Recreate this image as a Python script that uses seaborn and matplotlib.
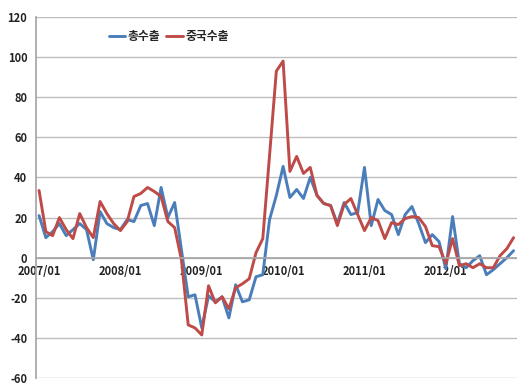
import numpy as np
import pandas as pd
import matplotlib
matplotlib.use("Agg")
import matplotlib.pyplot as plt
import seaborn as sns

# 월별 증가율(%) 2007/01 ~ 2012/11
months = pd.period_range("2007-01", periods=71, freq="M").strftime("%Y/%m").tolist()
total_export = [21, 10, 13, 17, 11, 14, 17, 14, -1, 23, 17, 15,
                14, 19, 18, 26, 27, 16, 35, 20, 27.5, 4, -19.5, -18.5,
                -35, -19, -22, -19.5, -30, -13.5, -22, -21, -9.5, -8.5, 19, 31,
                45.5, 30, 34, 29.5, 40, 31, 27, 26, 17, 27.5, 21.5, 22.5,
                45, 16, 29, 23.5, 21.5, 11.5, 21.5, 25.5, 17, 7.5, 11.5, 8,
                -5.5, 20.5, -3, -5, -1.5, 1, -8.5, -6, -3, 0, 3.5]
china_export = [33.5, 13, 11, 20, 14, 9.5, 22, 15, 10, 28, 22, 17,
                13.5, 18, 30.5, 32, 35, 33, 30.5, 18, 15, -1, -33.5, -35,
                -38.5, -14, -22.5, -19.5, -25.5, -15, -13, -10.5, 2.5, 9.5, 51, 93,
                98, 43, 50.5, 42, 45, 31, 27, 26, 16, 26.5, 29.5, 21.5,
                13.5, 20, 18.5, 9.5, 17.5, 16.5, 19.5, 20.5, 20, 15.5, 6, 5.5,
                -3, 9.5, -4, -3, -5, -3, -5, -5, 1, 4.5, 10]
series_names = ["총수출", "중국수출"]
colors = ["#4a7ebb", "#be4b48"]

df = pd.DataFrame({"month": months, "idx": np.arange(len(months)),
                   series_names[0]: total_export, series_names[1]: china_export})
long = df.melt(id_vars=["month", "idx"], var_name="series", value_name="value")

sns.set_theme(style="white")
plt.rcParams["font.family"] = ["Noto Sans CJK KR", "DejaVu Sans"]
plt.rcParams["axes.unicode_minus"] = False

fig = plt.figure(figsize=(5.17, 3.85), dpi=100)
ax = fig.add_axes([0.069, 0.018, 0.931, 0.938])

sns.lineplot(data=long, x="idx", y="value", hue="series", hue_order=series_names,
             palette=colors, linewidth=2.1, ax=ax, legend=False)

ax.set_xlim(-0.5, len(months) - 0.5)
ax.set_ylim(-60, 120)
ax.set_yticks(np.arange(-60, 121, 20))
ax.yaxis.grid(True, color="#bdbdbd", linewidth=1.0)
ax.set_axisbelow(True)
ax.set_xlabel("")
ax.set_ylabel("")

for s in ["top", "right"]:
    ax.spines[s].set_visible(False)
ax.spines["left"].set_color("#a6a6a6")
ax.spines["bottom"].set_position(("data", 0))
ax.spines["bottom"].set_color("#a6a6a6")

label_pos = [i for i, m in enumerate(months) if m.endswith("/01")]
ax.set_xticks(label_pos)
ax.set_xticklabels([months[i] for i in label_pos], fontsize=8, fontweight="bold", color="#222222")
ax.set_xticks(np.arange(-0.5, len(months), 1), minor=True)
ax.tick_params(axis="x", which="major", length=0, pad=5)
ax.tick_params(axis="x", which="minor", length=4, color="#a6a6a6", width=0.8, direction="out")
ax.tick_params(axis="y", length=4, color="#a6a6a6", width=0.8, labelsize=8, pad=2, labelcolor="#222222")
for t in ax.get_yticklabels():
    t.set_fontweight("bold")

handles = [plt.Line2D([], [], color=c, linewidth=2.1) for c in colors]
leg = ax.legend(handles, series_names, loc="center left", bbox_to_anchor=(0.13, 0.945),
                ncol=2, frameon=False, handlelength=1.4, handletextpad=0.2,
                columnspacing=0.5, prop={"size": 8.5, "weight": "bold"})

fig.savefig("out.png", dpi=100)
